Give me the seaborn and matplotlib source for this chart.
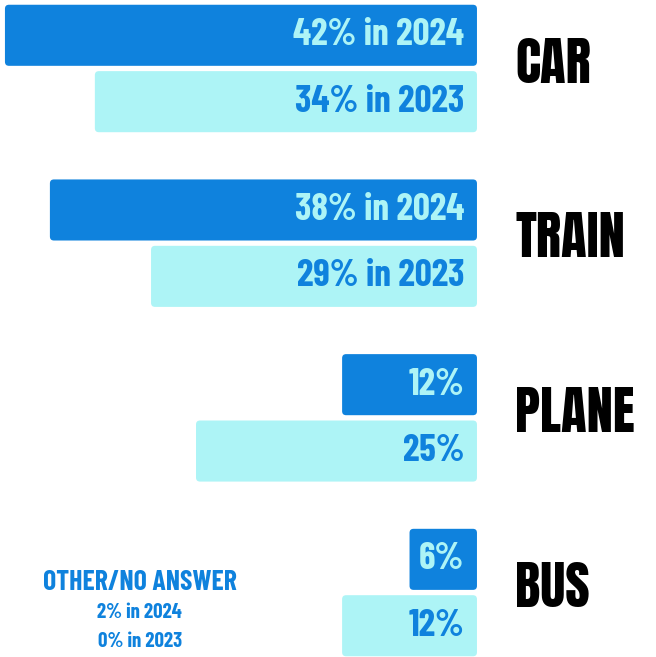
import matplotlib
matplotlib.use("Agg")
import matplotlib.pyplot as plt
from matplotlib.patches import FancyBboxPatch
import seaborn as sns
import pandas as pd

# data
modes = ["CAR", "TRAIN", "PLANE", "BUS"]
years = ["2024", "2023"]
share_2024 = [42, 38, 12, 6]
share_2023 = [34, 29, 25, 12]
long_labels = ["CAR", "TRAIN"]  # these bars carry "in <year>" text
other_title = "OTHER/NO ANSWER"
other_2024 = 2
other_2023 = 0

DARK = "#0F82DD"
LIGHT = "#ADF4F6"
VALUE_FONT = ["Barlow Condensed", "DejaVu Sans"]
NAME_FONT = ["Anton", "DejaVu Sans"]

sns.set_style("white")
plt.rcParams["font.family"] = VALUE_FONT

df = pd.DataFrame({
    "mode": modes * 2,
    "share": share_2024 + share_2023,
    "year": [years[0]] * len(modes) + [years[1]] * len(modes),
})

fig = plt.figure(figsize=(6.56, 6.57), dpi=100)
ax = fig.add_axes([0, 0, 1, 1])
sns.barplot(data=df, y="mode", x="share", hue="year", hue_order=years,
            order=modes, orient="h", palette=[DARK, LIGHT], saturation=1,
            width=0.76, gap=0.08, legend=False, ax=ax)

# bars grow leftwards from a common right edge
ax.set_xlim(42.44, -15.93)
ax.set_ylim(3.369, -0.392)

# rounded corners
px_x = 656 / (42.44 + 15.93)
px_y = 657 / (3.369 + 0.392)
for cont in ax.containers:
    for bar in cont:
        x0, y0 = bar.get_x(), bar.get_y()
        w, h = bar.get_width(), bar.get_height()
        fb = FancyBboxPatch((x0, y0), w, h,
                            boxstyle="round,pad=0,rounding_size=%f" % (4 / px_x),
                            mutation_aspect=px_x / px_y,
                            facecolor=bar.get_facecolor(), edgecolor="none")
        bar.set_visible(False)
        ax.add_patch(fb)

# value labels inside bars
for yi, (cont, year) in enumerate(zip(ax.containers, years)):
    txt_color = LIGHT if yi == 0 else DARK
    for mode, bar in zip(modes, cont):
        val = int(round(bar.get_width()))
        label = f"{val}%"
        if mode in long_labels:
            label += f" in {year}"
        ax.annotate(label, xy=(0, bar.get_y() + bar.get_height() / 2),
                    xytext=(-9, 0), textcoords="offset points",
                    ha="right", va="center", fontsize=27,
                    color=txt_color, fontweight="bold")

# category names to the right
for i, mode in enumerate(modes):
    ax.text(-3.4, i - 0.03, mode, ha="left", va="center", fontsize=38,
            family=NAME_FONT, color="black")

# other / no answer note
ax.text(0.213, 0.114, other_title, transform=ax.transAxes, ha="center",
        va="center", fontsize=20, color=DARK, fontweight="bold")
ax.text(0.213, 0.068, f"{other_2024}% in {years[0]}", transform=ax.transAxes,
        ha="center", va="center", fontsize=15, color=DARK, fontweight="bold")
ax.text(0.213, 0.024, f"{other_2023}% in {years[1]}", transform=ax.transAxes,
        ha="center", va="center", fontsize=15, color=DARK, fontweight="bold")

ax.axis("off")
fig.savefig("out.png", dpi=100)
plt.close(fig)
